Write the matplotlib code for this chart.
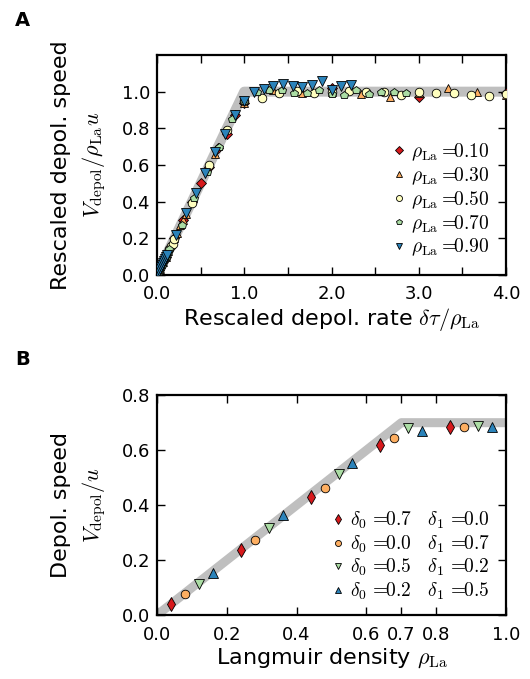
import matplotlib
matplotlib.use("Agg")
import matplotlib.pyplot as plt

plt.rcParams["mathtext.fontset"] = "cm"
plt.rcParams["font.family"] = "DejaVu Sans"

# ---- panel A data: rescaled depolymerisation speed vs rescaled rate ----
rho_labels = ["0.10", "0.30", "0.50", "0.70", "0.90"]

a_x_010 = [0.1, 0.2, 0.3, 0.4, 0.5, 0.6, 0.7, 0.8, 0.9, 1.0, 2.0, 3.0, 4.0]
a_y_010 = [0.10, 0.20, 0.30, 0.40, 0.50, 0.59, 0.69, 0.77, 0.87, 0.94, 1.02, 0.97, 0.99]

a_x_030 = [0.033, 0.067, 0.1, 0.133, 0.167, 0.2, 0.233, 0.267, 0.3, 0.333, 0.667,
           1.0, 1.333, 1.667, 2.0, 2.333, 2.667, 3.0, 3.333, 3.667, 4.0]
a_y_030 = [0.03, 0.07, 0.10, 0.13, 0.17, 0.20, 0.23, 0.27, 0.30, 0.33, 0.66,
           0.94, 1.01, 0.99, 1.00, 0.985, 0.97, 0.99, 1.02, 1.00, 0.98]

a_x_050 = [0.02, 0.04, 0.06, 0.08, 0.1, 0.12, 0.14, 0.16, 0.18, 0.2, 0.4, 0.6, 0.8,
           1.0, 1.2, 1.4, 1.6, 1.8, 2.0, 2.2, 2.4, 2.6, 2.8, 3.0, 3.2, 3.4, 3.6, 3.8, 4.0]
a_y_050 = [0.02, 0.04, 0.06, 0.08, 0.10, 0.12, 0.14, 0.16, 0.17, 0.195, 0.39, 0.60, 0.79,
           0.95, 0.965, 0.993, 1.002, 0.993, 1.00, 1.005, 0.996, 0.998, 0.98, 0.996,
           0.994, 0.993, 0.98, 0.978, 0.985]

a_x_070 = [0.014, 0.029, 0.043, 0.057, 0.071, 0.086, 0.1, 0.114, 0.129, 0.143, 0.286,
           0.429, 0.571, 0.714, 0.857, 1.0, 1.143, 1.286, 1.429, 1.571, 1.714, 1.857,
           2.0, 2.143, 2.286, 2.429, 2.571, 2.714, 2.857]
a_y_070 = [0.014, 0.029, 0.043, 0.057, 0.07, 0.085, 0.10, 0.113, 0.128, 0.14, 0.275,
           0.42, 0.56, 0.70, 0.85, 0.95, 0.998, 1.007, 1.007, 0.993, 0.993, 1.007,
           0.989, 0.98, 1.007, 0.987, 1.0, 1.0, 0.99]

a_x_090 = [0.011, 0.022, 0.033, 0.044, 0.056, 0.067, 0.078, 0.089, 0.1, 0.111, 0.222,
           0.333, 0.444, 0.556, 0.667, 0.778, 0.889, 1.0, 1.111, 1.222, 1.333, 1.444,
           1.556, 1.667, 1.778, 1.889, 2.0, 2.111, 2.222]
a_y_090 = [0.011, 0.022, 0.033, 0.044, 0.056, 0.067, 0.078, 0.089, 0.10, 0.11, 0.22,
           0.34, 0.445, 0.555, 0.67, 0.77, 0.87, 0.95, 0.998, 1.014, 1.029, 1.044,
           1.029, 1.025, 1.034, 1.056, 1.01, 1.029, 1.034]

a_theory_x = [0.0, 1.0, 4.0]
a_theory_y = [0.0, 1.0, 1.0]

# ---- panel B data: depolymerisation speed vs Langmuir density ----
delta_labels = [("0.7", "0.0"), ("0.0", "0.7"), ("0.5", "0.2"), ("0.2", "0.5")]

b_x_1 = [0.04, 0.24, 0.44, 0.64, 0.84]
b_y_1 = [0.039, 0.236, 0.43, 0.618, 0.685]
b_x_2 = [0.08, 0.28, 0.48, 0.68, 0.88]
b_y_2 = [0.076, 0.273, 0.463, 0.646, 0.685]
b_x_3 = [0.12, 0.32, 0.52, 0.72, 0.92]
b_y_3 = [0.113, 0.318, 0.515, 0.681, 0.688]
b_x_4 = [0.16, 0.36, 0.56, 0.76, 0.96]
b_y_4 = [0.155, 0.366, 0.554, 0.669, 0.685]

b_theory_x = [0.0, 0.7, 1.0]
b_theory_y = [0.0, 0.7, 0.7]

red, orange, yellow, green, blue = "#d7191c", "#fdae61", "#ffffbf", "#abdda4", "#2b83ba"
band_color = "0.75"


def style_axes(ax):
    for s in ax.spines.values():
        s.set_linewidth(1.6)
    ax.tick_params(direction="in", top=True, right=True, length=6, width=1.0,
                   labelsize=13)
    ax.tick_params(axis="x", pad=7.5)
    ax.tick_params(axis="y", pad=5)


def legend_opts():
    return dict(loc="lower right", frameon=False, numpoints=1, markerscale=0.7,
                handlelength=0.6, handletextpad=0.3, labelspacing=0.12, fontsize=14,
                borderaxespad=0.0)


fig = plt.figure(figsize=(5.3, 6.79), dpi=100)

# ---------------- panel A ----------------
axA = fig.add_axes([0.296, 0.595, 0.659, 0.324])
axA.plot(a_theory_x, a_theory_y, color=band_color, lw=7.2, solid_capstyle="butt", zorder=1)
series_a = [
    (a_x_010, a_y_010, red, "D", 5.5),
    (a_x_030, a_y_030, orange, "^", 6.0),
    (a_x_050, a_y_050, yellow, "o", 6.2),
    (a_x_070, a_y_070, green, "p", 6.2),
    (a_x_090, a_y_090, blue, "v", 6.5),
]
for (x, y, c, m, ms), lab in zip(series_a, rho_labels):
    axA.plot(x, y, ls="none", marker=m, ms=ms, mfc=c, mec="k", mew=0.6, zorder=3,
             label=r"$\rho_{\rm La}=\!\!" + lab + "$")
axA.set_xlim(0, 4.0)
axA.set_ylim(0, 1.2)
axA.set_xticks([0, 0.5, 1.0, 1.5, 2.0, 2.5, 3.0, 3.5, 4.0])
axA.set_xticklabels(["0.0", "", "1.0", "", "2.0", "", "3.0", "", "4.0"])
axA.set_yticks([0, 0.2, 0.4, 0.6, 0.8, 1.0])
axA.set_yticklabels(["0.0", "0.2", "0.4", "0.6", "0.8", "1.0"])
style_axes(axA)
axA.set_xlabel(r"Rescaled depol. rate $\delta\tau/\rho_{\rm La}$", fontsize=16, labelpad=2)
axA.set_ylabel("Rescaled depol. speed\n" + r"$V_{\rm depol}/\rho_{\rm La}u$", fontsize=16,
               labelpad=10, linespacing=1.45)
axA.legend(bbox_to_anchor=(0.975, 0.04), **legend_opts())

# ---------------- panel B ----------------
axB = fig.add_axes([0.296, 0.094, 0.659, 0.324])
axB.plot(b_theory_x, b_theory_y, color=band_color, lw=6.5, solid_capstyle="butt", zorder=1)
series_b = [
    (b_x_1, b_y_1, red, "d", 7.0),
    (b_x_2, b_y_2, orange, "o", 6.2),
    (b_x_3, b_y_3, green, "v", 6.5),
    (b_x_4, b_y_4, blue, "^", 6.5),
]
for (x, y, c, m, ms), (d0, d1) in zip(series_b, delta_labels):
    axB.plot(x, y, ls="none", marker=m, ms=ms, mfc=c, mec="k", mew=0.6, zorder=3,
             label=r"$\delta_0\,=\!\!" + d0 + r"\quad\delta_1\,=\!\!" + d1 + "$")
axB.set_xlim(0, 1.0)
axB.set_ylim(0, 0.8)
axB.set_xticks([0, 0.2, 0.4, 0.6, 0.7, 0.8, 1.0])
axB.set_xticklabels(["0.0", "0.2", "0.4", "0.6", "0.7", "0.8", "1.0"])
axB.set_yticks([0, 0.2, 0.4, 0.6, 0.8])
axB.set_yticklabels(["0.0", "0.2", "0.4", "0.6", "0.8"])
style_axes(axB)
axB.set_xlabel(r"Langmuir density $\rho_{\rm La}$", fontsize=16, labelpad=2)
axB.set_ylabel("Depol. speed\n" + r"$V_{\rm depol}/u$", fontsize=16, labelpad=10,
               linespacing=1.45)
axB.legend(bbox_to_anchor=(0.975, 0.025), **legend_opts())

fig.text(0.028, 0.97, "A", fontsize=14, fontweight="bold", va="center", ha="left")
fig.text(0.028, 0.471, "B", fontsize=14, fontweight="bold", va="center", ha="left")

fig.savefig("out.png", dpi=100)
